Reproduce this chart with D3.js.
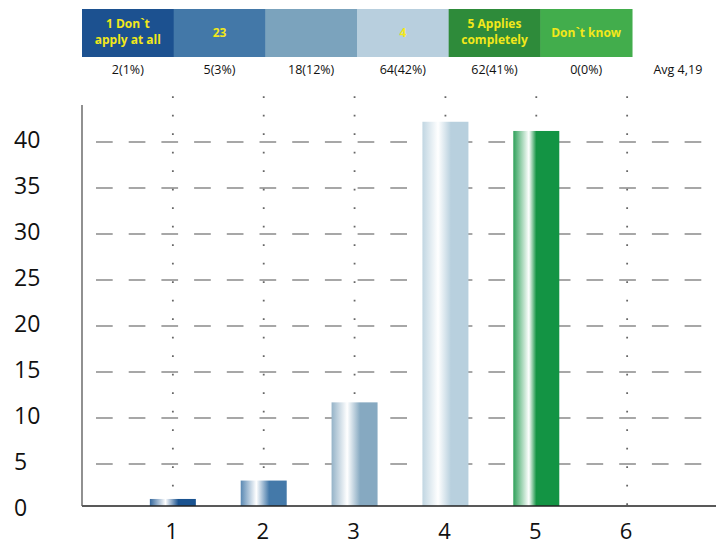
<!DOCTYPE html>
<html>
<head>
<meta charset="utf-8">
<script src="https://cdn.jsdelivr.net/npm/d3@7"></script>
<style>
  body { margin: 0; background: #fff; }
  svg { display: block; font-family: "Open Sans", "DejaVu Sans", sans-serif; }
</style>
</head>
<body>
<div id="chart"></div>
<script>
// answer options shown in the header boxes
const headerLabels = [["1 Don`t", "apply at all"], ["23"], [""], ["4"], ["5 Applies", "completely"], ["Don`t know"]];
const headerColors = ["#1c5190", "#4378a8", "#7ba3bd", "#b8cfde", "#2e8b3a", "#42ad4c"];
const counts = [2, 5, 18, 64, 62, 0];
const percents = [1, 3, 12, 42, 41, 0];
const avgLabel = "Avg 4,19";

// bars (percent of answers), categories 1..6
const categories = [1, 2, 3, 4, 5, 6];
const barValues = [1.2, 3.2, 11.7, 42.2, 41.2, 0];
const barColors = ["#1a5390", "#4479a9", "#86a9c1", "#b8d0de", "#139444", "#42ad4c"];
const yTicks = [0, 5, 10, 15, 20, 25, 30, 35, 40];

const W = 716, H = 546;
const svg = d3.select("#chart").append("svg")
  .attr("width", W)
  .attr("height", H);

// header boxes
const hx = d3.scaleBand()
  .domain(d3.range(7))
  .range([82, 82 + 7 * 91.67]);

const head = svg.append("g");
head.selectAll("rect")
  .data(headerLabels)
  .enter()
  .append("rect")
    .attr("x", (d, i) => hx(i))
    .attr("y", 9)
    .attr("width", hx.bandwidth() + 0.5)
    .attr("height", 48)
    .attr("fill", (d, i) => headerColors[i]);

// one text per line so the lines don't collide
const headLines = [];
headerLabels.forEach((d, i) => {
  d.forEach((line, j) => headLines.push({i: i, line: line, y: d.length > 1 ? 28 + j * 16 : 37}));
});

head.selectAll("text.hl")
  .data(headLines)
  .enter()
  .append("text")
    .attr("class", "hl")
    .attr("x", d => hx(d.i) + hx.bandwidth() / 2)
    .attr("y", d => d.y)
    .attr("text-anchor", "middle")
    .attr("fill", "#f2e81a")
    .style("font-size", "12px")
    .style("font-weight", "bold")
    .text(d => d.line);

// counts under the boxes
head.selectAll("text.cnt")
  .data(counts)
  .enter()
  .append("text")
    .attr("class", "cnt")
    .attr("x", (d, i) => hx(i) + hx.bandwidth() / 2)
    .attr("y", 74)
    .attr("text-anchor", "middle")
    .attr("fill", "#111")
    .style("font-size", "12.5px")
    .text((d, i) => `${d}(${percents[i]}%)`);

head.append("text")
  .attr("x", hx(6) + hx.bandwidth() / 2)
  .attr("y", 74)
  .attr("text-anchor", "middle")
  .attr("fill", "#111")
  .style("font-size", "12.5px")
  .text(avgLabel);

// scales
const x = d3.scaleLinear()
  .domain([0, 7])
  .range([82, 718]);

const y = d3.scaleLinear()
  .domain([0, 40])
  .range([510, 142]);

const baseY = 506;

// horizontal dashed grid
svg.append("g")
  .selectAll("line")
  .data(yTicks.filter(d => d > 0))
  .enter()
  .append("line")
    .attr("x1", x(0))
    .attr("x2", W)
    .attr("y1", d => y(d))
    .attr("y2", d => y(d))
    .attr("stroke", "#8a8a8a")
    .attr("stroke-width", 1.3)
    .attr("stroke-dasharray", "16.7,16")
    .attr("stroke-dashoffset", 18.7);

// vertical dotted lines
svg.append("g")
  .selectAll("line")
  .data(categories)
  .enter()
  .append("line")
    .attr("x1", d => x(d))
    .attr("x2", d => x(d))
    .attr("y1", 505)
    .attr("y2", 95)
    .attr("stroke", "#666")
    .attr("stroke-width", 1.8)
    .attr("stroke-dasharray", "1.8,16.7");

// gradients for the bars
const defs = svg.append("defs");
barColors.forEach((c, i) => {
  const g = defs.append("linearGradient")
    .attr("id", "grad" + i)
    .attr("x1", "0%").attr("x2", "100%")
    .attr("y1", "0%").attr("y2", "0%");
  g.append("stop").attr("offset", "0%").attr("stop-color", d3.interpolateRgb(c, "#fff")(0.12));
  g.append("stop").attr("offset", "34%").attr("stop-color", "#fff");
  g.append("stop").attr("offset", i === 4 ? "50%" : "62%").attr("stop-color", c);
  g.append("stop").attr("offset", "100%").attr("stop-color", c);
});

// bars
const barW = 46;
svg.append("g")
  .selectAll("rect")
  .data(barValues)
  .enter()
  .append("rect")
    .filter(d => d > 0)
    .attr("x", (d, i) => x(categories[i]) - barW / 2)
    .attr("y", d => y(d))
    .attr("width", barW)
    .attr("height", d => baseY - y(d))
    .attr("fill", (d, i) => `url(#grad${i})`);

// axes lines
svg.append("line")
  .attr("x1", x(0)).attr("x2", W)
  .attr("y1", baseY).attr("y2", baseY)
  .attr("stroke", "#222")
  .attr("stroke-width", 1.5);

svg.append("line")
  .attr("x1", x(0)).attr("x2", x(0))
  .attr("y1", 105).attr("y2", baseY)
  .attr("stroke", "#555")
  .attr("stroke-width", 1.3);

// y tick labels
svg.append("g")
  .selectAll("text")
  .data(yTicks)
  .enter()
  .append("text")
    .attr("x", 14)
    .attr("y", d => y(d) + 6)
    .attr("fill", "#111")
    .style("font-size", "23px")
    .text(d => d);

// x tick labels
svg.append("g")
  .selectAll("text")
  .data(categories)
  .enter()
  .append("text")
    .attr("x", d => x(d) - 1)
    .attr("y", 539)
    .attr("text-anchor", "middle")
    .attr("fill", "#111")
    .style("font-size", "22px")
    .text(d => d);
</script>
</body>
</html>
